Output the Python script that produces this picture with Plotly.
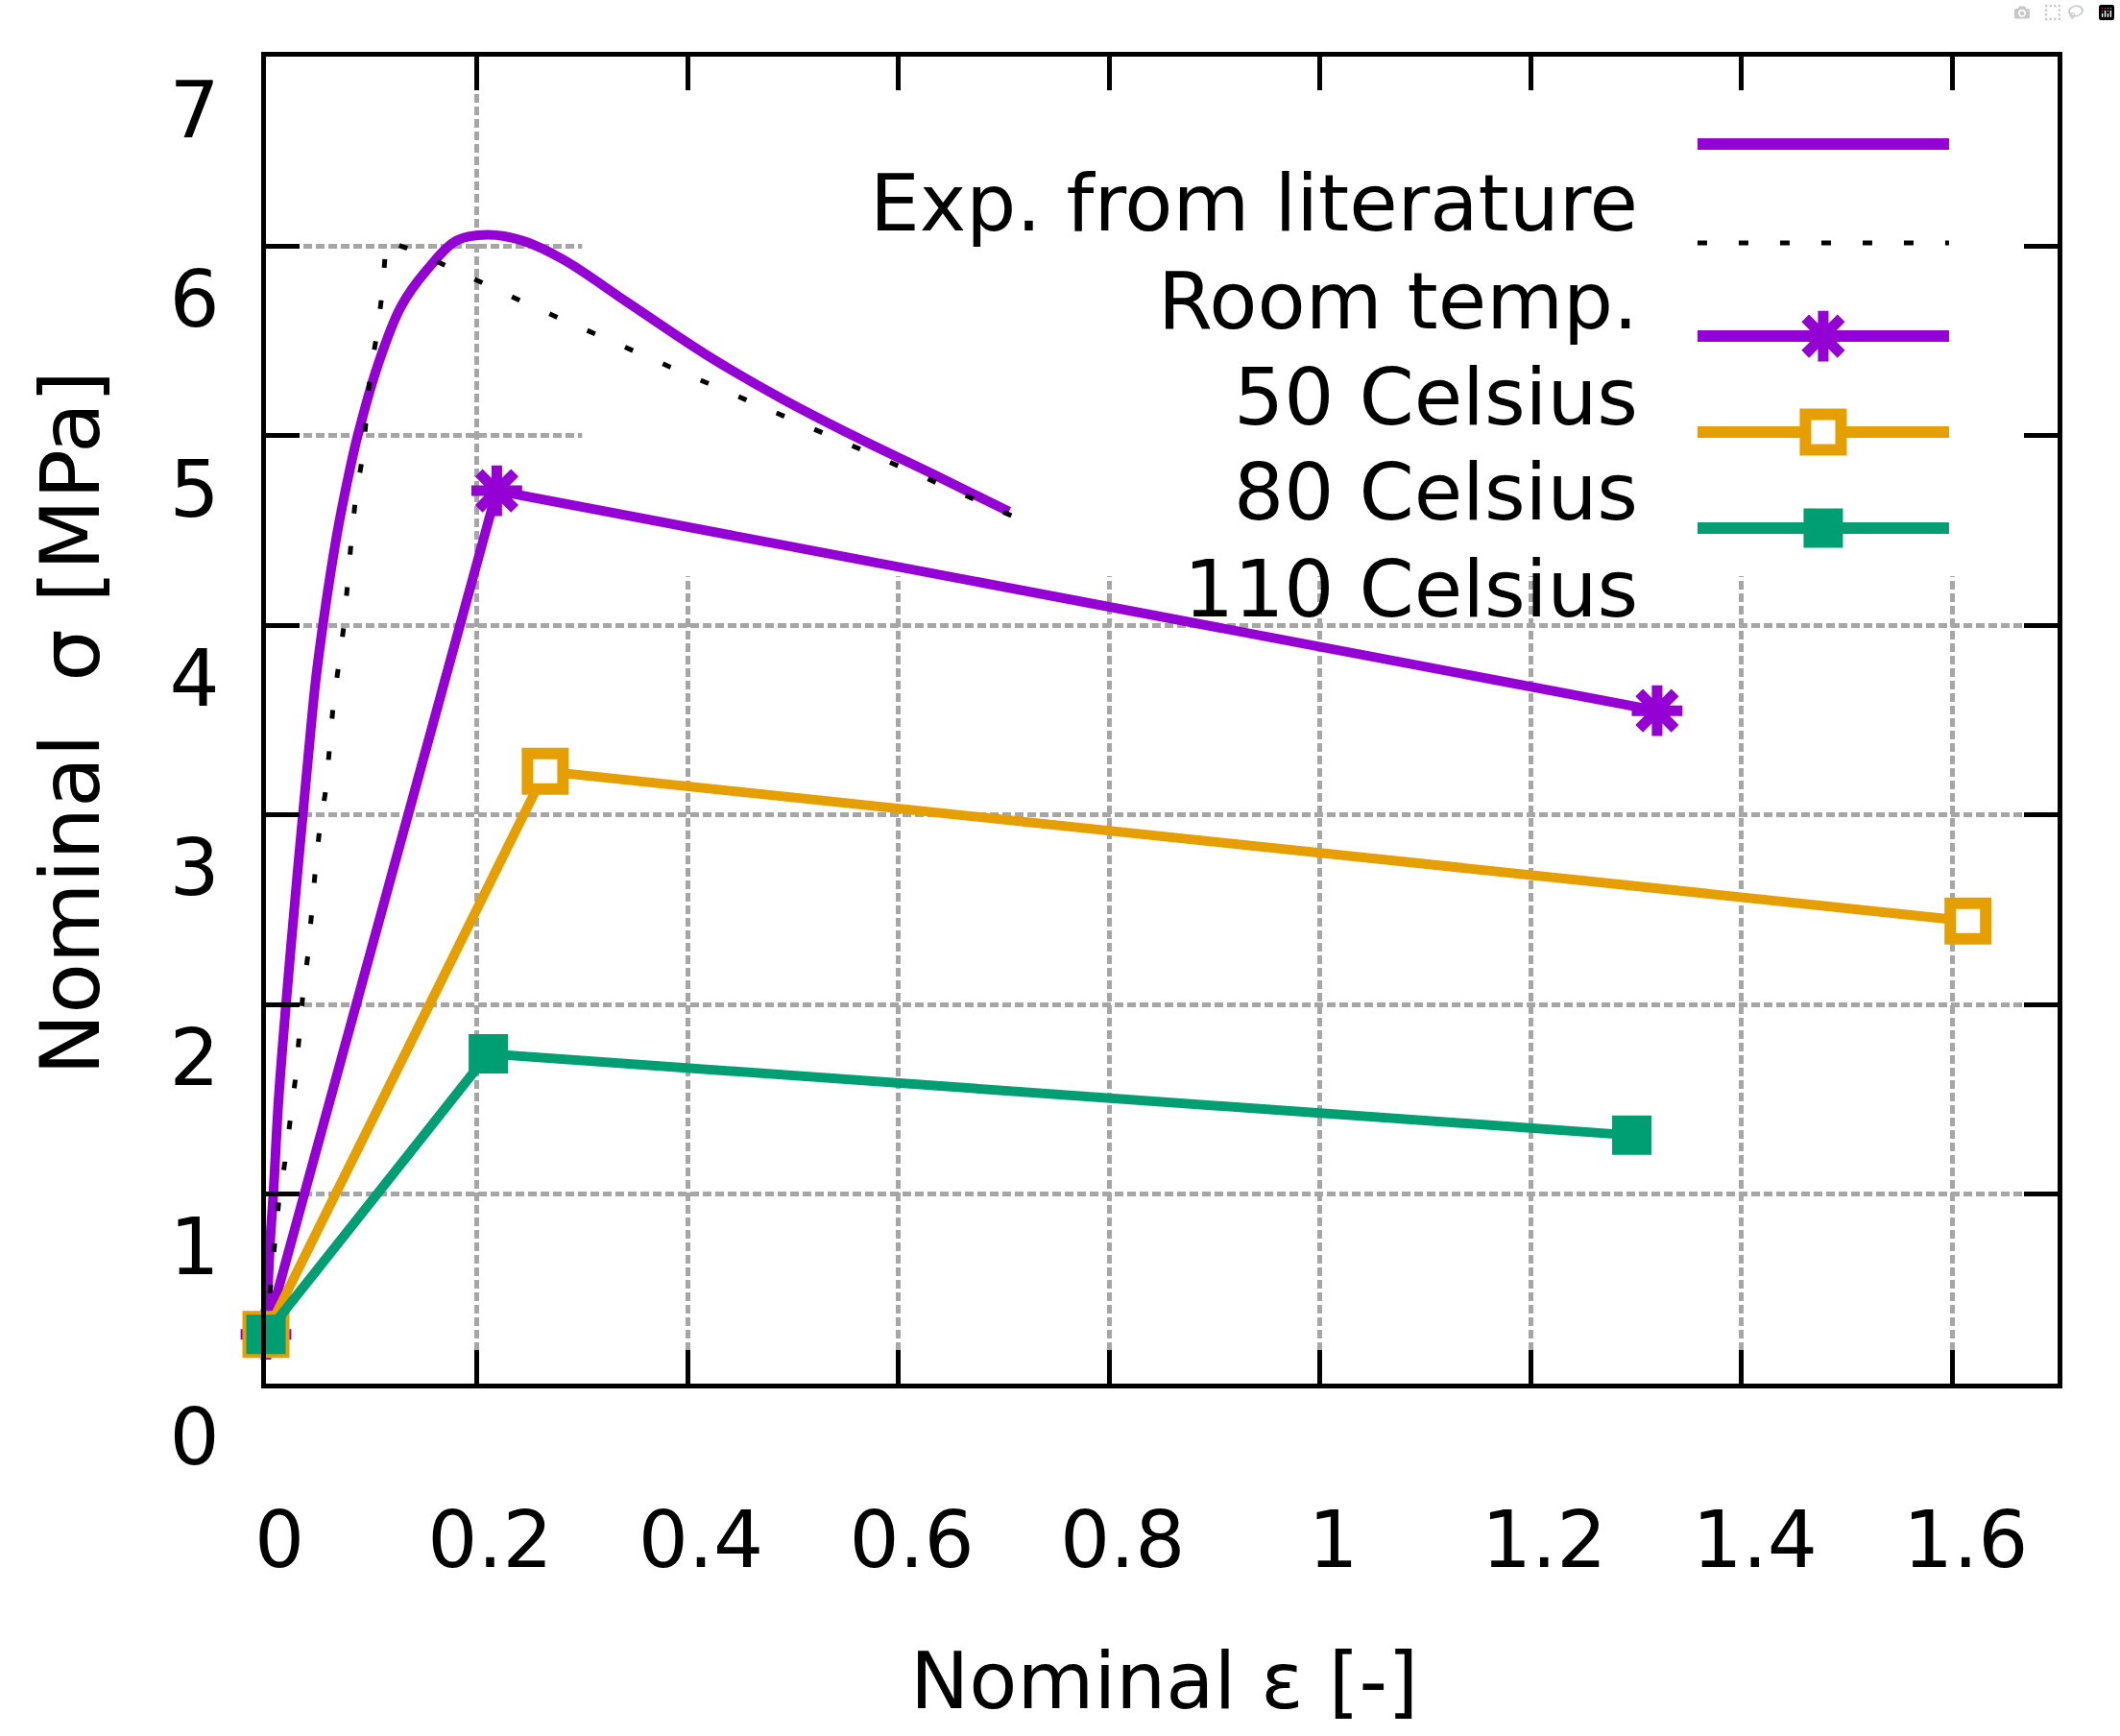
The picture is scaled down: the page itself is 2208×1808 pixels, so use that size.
import plotly.graph_objects as go

# ---------------- data ----------------
exp_x = [0.0, 0.004, 0.007, 0.012, 0.019, 0.030, 0.035, 0.041, 0.047, 0.054, 0.062, 0.069,
         0.078, 0.087, 0.106, 0.128, 0.152, 0.181, 0.210, 0.243, 0.282, 0.344, 0.417,
         0.488, 0.561, 0.632, 0.705]
exp_y = [0.26, 0.75, 1.0, 1.5, 2.0, 2.70, 3.0, 3.36, 3.70, 4.0, 4.30, 4.53,
         4.78, 5.0, 5.37, 5.68, 5.87, 6.03, 6.06, 6.03, 5.93, 5.70, 5.43,
         5.20, 4.99, 4.80, 4.60]

room_x = [0.0, 0.009, 0.012, 0.018, 0.023, 0.028, 0.035, 0.040, 0.047, 0.051, 0.057, 0.064,
          0.069, 0.074, 0.081, 0.085, 0.092, 0.099, 0.106, 0.111, 0.114, 0.143, 0.250, 0.397,
          0.543, 0.711]
room_y = [0.26, 0.75, 0.95, 1.17, 1.38, 1.61, 2.05, 2.27, 2.72, 2.93, 3.14, 3.59,
          3.79, 4.0, 4.45, 4.67, 4.9, 5.33, 5.56, 5.79, 6.03, 5.97, 5.69, 5.33,
          4.98, 4.57]

c50_x = [0.0, 0.219, 1.320]
c50_y = [0.26, 4.71, 3.55]

c80_x = [0.0, 0.265, 1.615]
c80_y = [0.26, 3.23, 2.44]

c110_x = [0.0, 0.211, 1.296]
c110_y = [0.26, 1.74, 1.31]

legend_labels = ["Exp. from literature", "Room temp.", "50 Celsius", "80 Celsius", "110 Celsius"]
x_title = "Nominal ε [-]"
y_title = "Nominal\u00a0 σ [MPa]"

# ---------------- styles ----------------
PURPLE = "#9400D3"
ORANGE = "#E69F00"
GREEN = "#009E73"
FONT = "DejaVu Sans"
FS = 82
LW = 10

star_marker = dict(symbol="asterisk-open", size=44, color=PURPLE,
                   line=dict(color=PURPLE, width=11))
open_sq_marker = dict(symbol="square", size=37, color="white",
                      line=dict(color=ORANGE, width=12))
fill_sq_marker = dict(symbol="square", size=41, color=GREEN, line=dict(width=0))

fig = go.Figure()

fig.add_trace(go.Scatter(x=exp_x, y=exp_y, mode="lines", cliponaxis=False,
                         line=dict(color=PURPLE, width=LW, shape="spline", smoothing=1.0)))
fig.add_trace(go.Scatter(x=room_x, y=room_y, mode="lines", cliponaxis=False,
                         line=dict(color="black", width=5, dash="9px,34px")))
fig.add_trace(go.Scatter(x=c50_x, y=c50_y, mode="lines+markers", cliponaxis=False,
                         line=dict(color=PURPLE, width=LW), marker=star_marker))
fig.add_trace(go.Scatter(x=c80_x, y=c80_y, mode="lines+markers", cliponaxis=False,
                         line=dict(color=ORANGE, width=LW), marker=open_sq_marker))
fig.add_trace(go.Scatter(x=c110_x, y=c110_y, mode="lines+markers", cliponaxis=False,
                         line=dict(color=GREEN, width=LW), marker=fill_sq_marker))

# ---------------- manual key (gnuplot style: text left, sample right) ----------------
key_x0, key_x1, key_xm = 0.799, 0.9394, 0.8692
key_line_y = [0.9342, 0.8596, 0.7894, 0.7171, 0.6447]
key_text_y = [0.8893, 0.8162, 0.7438, 0.6715, 0.5991]
key_text_x = 0.7669

samples = [
    dict(line=dict(color=PURPLE, width=12), marker=None),
    dict(line=dict(color="black", width=5, dash="10px,33px"), marker=None),
    dict(line=dict(color=PURPLE, width=12), marker=star_marker),
    dict(line=dict(color=ORANGE, width=12), marker=open_sq_marker),
    dict(line=dict(color=GREEN, width=12), marker=fill_sq_marker),
]
for ly, s in zip(key_line_y, samples):
    fig.add_trace(go.Scatter(x=[key_x0, key_x1], y=[ly, ly], mode="lines", line=s["line"],
                             xaxis="x2", yaxis="y2", hoverinfo="skip"))
    if s["marker"] is not None:
        fig.add_trace(go.Scatter(x=[key_xm], y=[ly], mode="markers", marker=s["marker"],
                                 xaxis="x2", yaxis="y2", hoverinfo="skip"))

annotations = []
for ty, lab in zip(key_text_y, legend_labels):
    annotations.append(dict(x=key_text_x, y=ty, xref="paper", yref="paper", text=lab,
                            showarrow=False, xanchor="right", yanchor="middle",
                            font=dict(family=FONT, size=FS, color="black")))
annotations.append(dict(x=0.5016, y=-0.2243, xref="paper", yref="paper", text=x_title,
                        showarrow=False, xanchor="center", yanchor="middle",
                        font=dict(family=FONT, size=FS, color="black")))
annotations.append(dict(x=-0.1093, y=0.4978, xref="paper", yref="paper", text=y_title,
                        showarrow=False, xanchor="center", yanchor="middle", textangle=-90,
                        font=dict(family=FONT, size=86, color="black")))

axis_common = dict(showline=True, linecolor="black", linewidth=5, mirror="allticks",
                   ticks="inside", ticklen=35, tickwidth=5, tickcolor="black",
                   showgrid=True, gridcolor="#a6a6a6", gridwidth=5, griddash="9px,4px",
                   zeroline=False,
                   tickfont=dict(family=FONT, size=FS, color="black"), fixedrange=True)

fig.update_layout(
    width=2208, height=1808, autosize=False,
    margin=dict(l=277, r=65, t=59, b=367, pad=0),
    paper_bgcolor="white", plot_bgcolor="white",
    showlegend=False,
    xaxis=dict(range=[0, 1.7], dtick=0.2, tick0=0, ticklabelstandoff=88,
               ticklabelshift=14, **axis_common),
    yaxis=dict(range=[0, 7], dtick=1, tick0=0, ticklabelstandoff=27,
               ticklabelshift=55, **axis_common),
    xaxis2=dict(overlaying="x", anchor="y2", range=[0, 1], visible=False, fixedrange=True),
    yaxis2=dict(overlaying="y", anchor="x2", range=[0, 1], visible=False, fixedrange=True),
    annotations=annotations,
    shapes=[dict(type="rect", xref="x", yref="y", x0=0.30, x1=1.7, y0=4.26, y1=7,
                 fillcolor="white", line=dict(width=0), layer="between")],
)

fig.write_html("out.html",
               post_script="document.body.style.margin='0';document.body.style.overflow='hidden';")
